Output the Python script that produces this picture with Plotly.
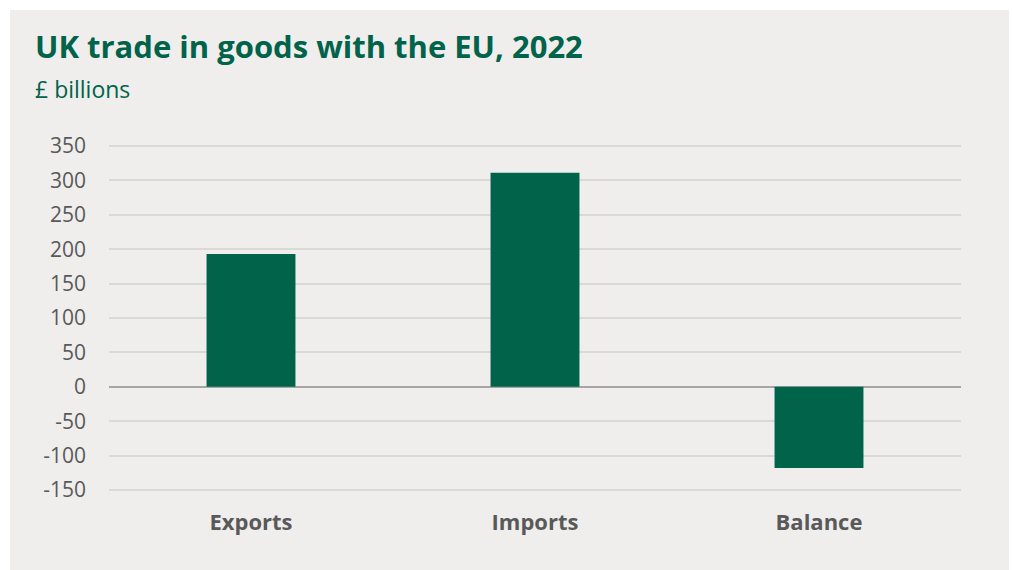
import plotly.graph_objects as go

# UK trade in goods with the EU, 2022 (£ billions)
categories = ["Exports", "Imports", "Balance"]
values = [193, 311, -118]
tick_values = [-150, -100, -50, 0, 50, 100, 150, 200, 250, 300, 350]

GREEN = "#00634A"
PANEL = "#EFEEEC"
TEXT_GREY = "#595959"

W, H = 1012, 570
left, right, top, bottom = 109, 51, 139, 73
plot_w = W - left - right
plot_h = H - top - bottom


def px_x(p):
    return (p - left) / plot_w


def px_y(p):
    return (H - bottom - p) / plot_h


fig = go.Figure(
    go.Bar(
        x=categories,
        y=values,
        marker=dict(color=GREEN, line=dict(width=0)),
        hoverinfo="skip",
    )
)

fig.update_layout(
    width=W,
    height=H,
    margin=dict(l=left, r=right, t=top, b=bottom, pad=0),
    paper_bgcolor="white",
    plot_bgcolor="rgba(0,0,0,0)",
    bargap=0.687,
    showlegend=False,
    font=dict(family="Open Sans", color=TEXT_GREY),
    shapes=[
        dict(
            type="rect", xref="paper", yref="paper",
            x0=px_x(10), x1=px_x(1009), y0=px_y(572), y1=px_y(10),
            fillcolor=PANEL, line=dict(width=0), layer="below",
        )
    ],
    annotations=[
        dict(
            text="<b>UK trade in goods with the EU, 2022</b>",
            xref="paper", yref="paper", x=px_x(33), y=px_y(46),
            xanchor="left", yanchor="middle", showarrow=False,
            font=dict(family="Open Sans", size=31, color=GREEN),
        ),
        dict(
            text="£ billions",
            xref="paper", yref="paper", x=px_x(33), y=px_y(89),
            xanchor="left", yanchor="middle", showarrow=False,
            font=dict(family="Open Sans", size=23, color=GREEN),
        ),
    ],
)

fig.update_xaxes(
    showgrid=False,
    showline=False,
    ticks="",
    tickfont=dict(family="Open Sans", size=22, color=TEXT_GREY, weight="bold"),
    ticklabelstandoff=10,
    fixedrange=True,
)

fig.update_yaxes(
    range=[-160, 360],
    tickvals=tick_values,
    ticktext=[str(v) for v in tick_values],
    showgrid=True,
    gridcolor="#D9D9D6",
    gridwidth=2,
    zeroline=True,
    zerolinecolor="#A6A6A6",
    zerolinewidth=2,
    showline=False,
    ticks="",
    tickfont=dict(family="Open Sans", size=21, color=TEXT_GREY),
    ticklabelstandoff=22,
    fixedrange=True,
)

fig.write_html("out.html", config={"displayModeBar": False})
